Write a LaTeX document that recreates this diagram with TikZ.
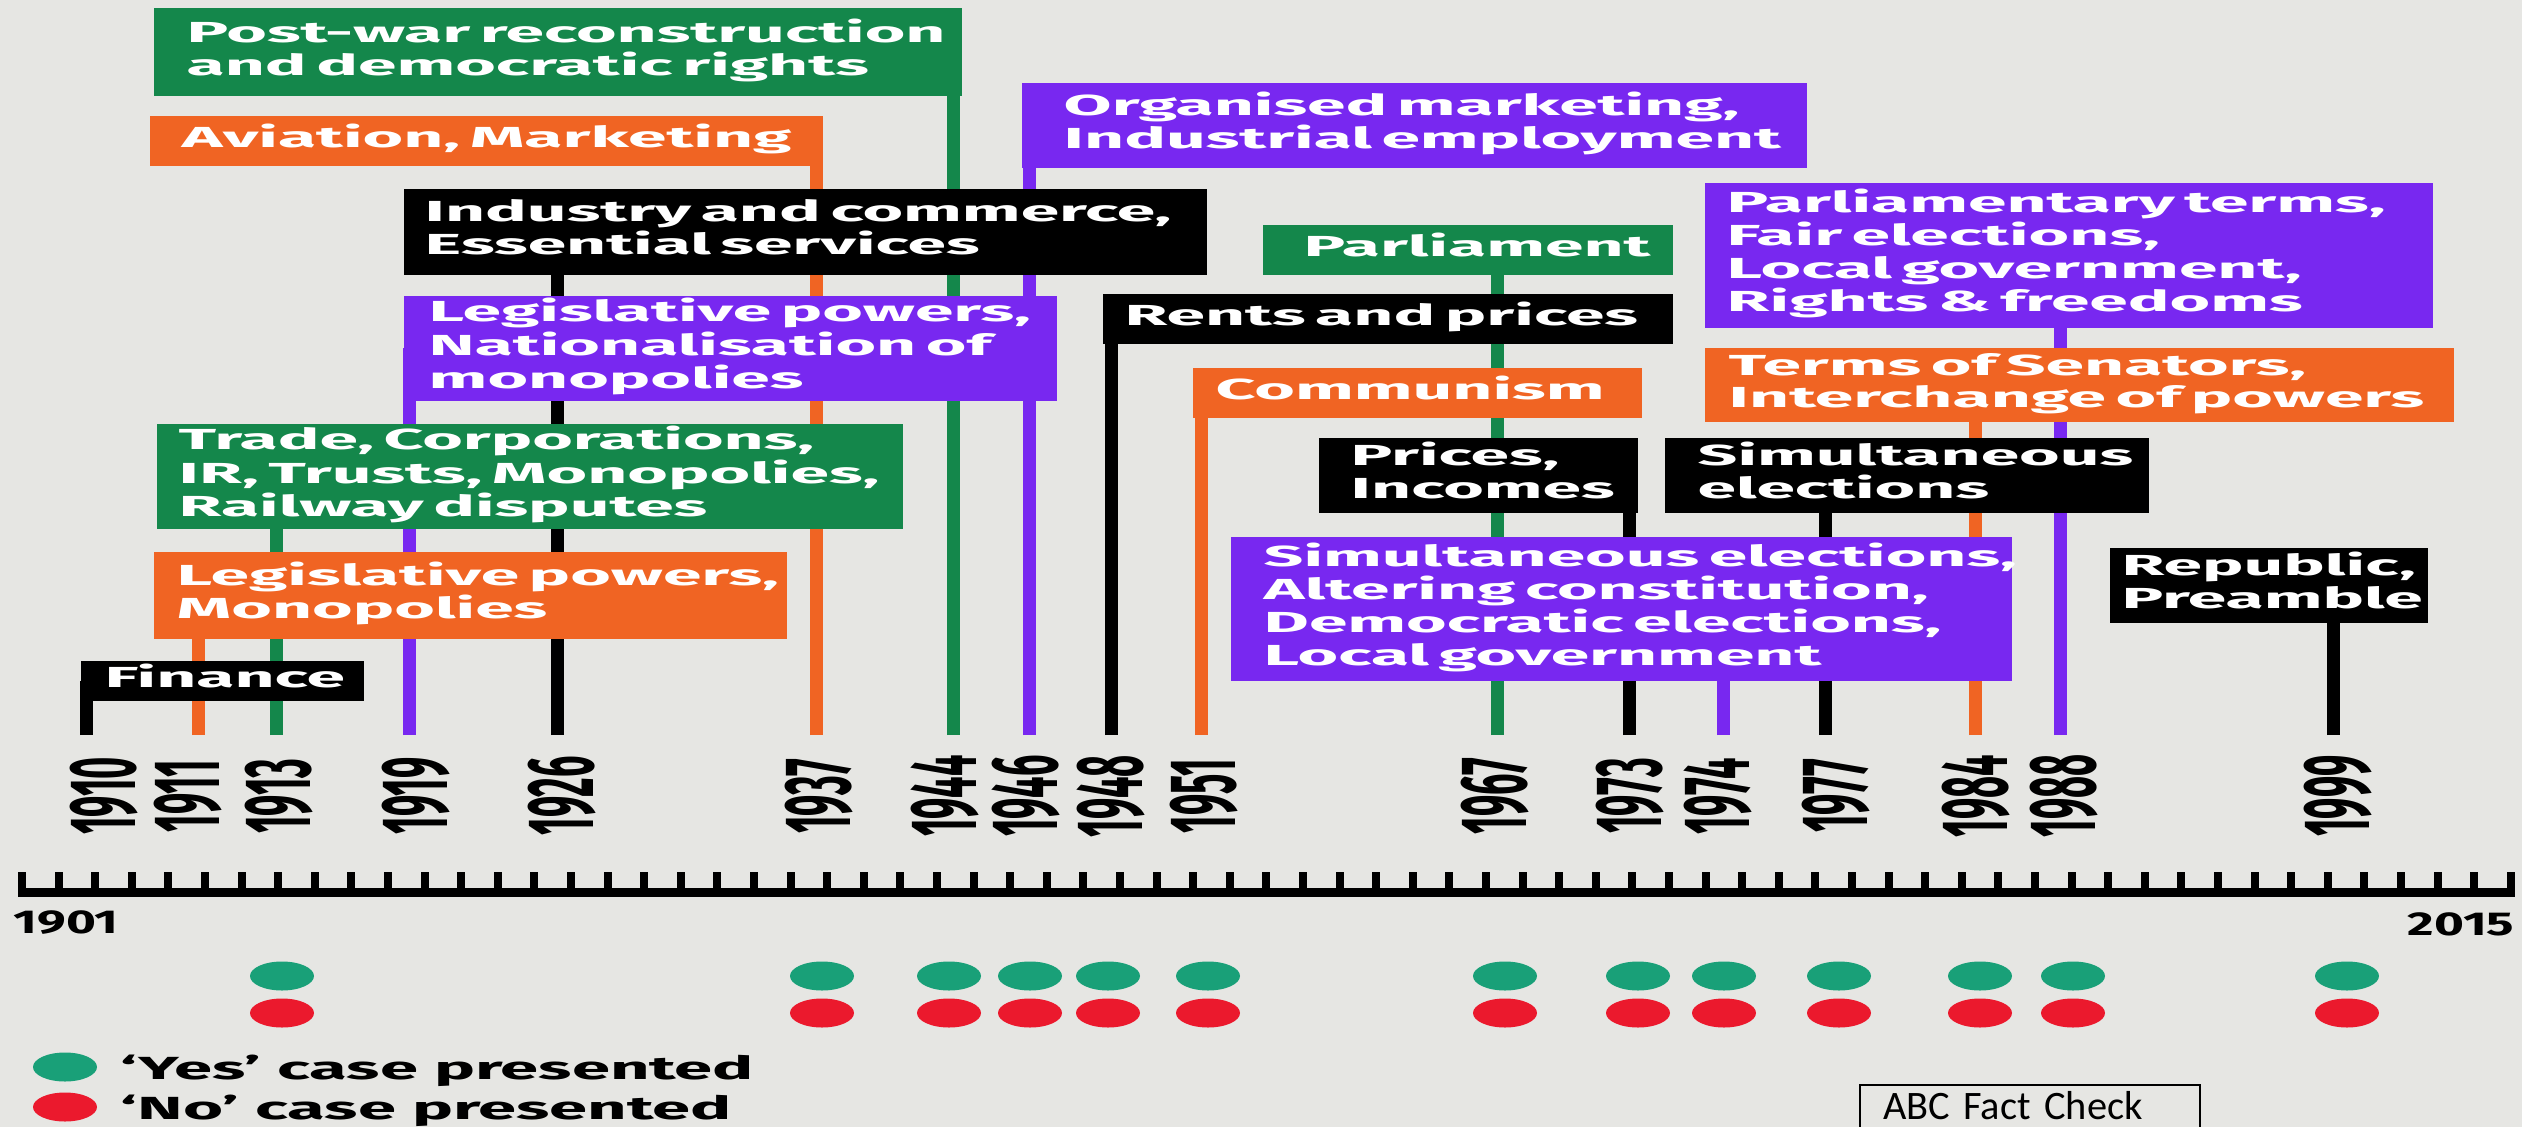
\documentclass[tikz,border=0pt]{standalone}
\usepackage{graphicx}
\usepackage{fontspec}
\setmainfont{Fira Sans}
\newfontfamily\boxfont[FakeStretch=2.4]{Fira Sans}
\newfontfamily\axisfont[FakeStretch=1.55]{Fira Sans}
\newfontfamily\legfont[FakeStretch=2.15]{Fira Sans}
\newfontfamily\yearfont{Fira Sans}
\newfontfamily\abcfont{Carlito}
\usetikzlibrary{positioning,shapes.geometric}
\newcommand{\boxlines}[1]{\begin{tabular}{@{}l@{}}#1\end{tabular}}

\definecolor{paper}{RGB}{230,230,227}
\definecolor{kgreen}{RGB}{20,135,75}
\definecolor{korange}{RGB}{240,100,35}
\definecolor{kpurple}{RGB}{120,40,240}
\definecolor{yesgreen}{RGB}{25,160,120}
\definecolor{nored}{RGB}{235,25,45}

\pgfdeclarelayer{paperlayer}
\pgfdeclarelayer{stemlayer}
\pgfsetlayers{paperlayer,stemlayer,main}

\tikzset{
  topic/.style={fill=#1, text=white, anchor=north west, align=left, inner ysep=0pt,
    font={\boxfont\bfseries\fontsize{8.25pt}{9.2pt}\selectfont}},
  stem/.style={draw=#1, line width=1.3mm},
  yearlbl/.style={rotate=90, inner sep=0pt,
    font={\yearfont\bfseries\fontsize{10.8pt}{12pt}\selectfont}},
  yesdot/.style={ellipse, fill=yesgreen, minimum width=6.4mm, minimum height=2.9mm, inner sep=0pt},
  nodot/.style={ellipse, fill=nored, minimum width=6.4mm, minimum height=2.9mm, inner sep=0pt},
  axislbl/.style={inner sep=0pt, font={\axisfont\bfseries\fontsize{9.4pt}{11pt}\selectfont}},
  keytext/.style={inner sep=0pt, anchor=base west, font={\legfont\bfseries\fontsize{9.1pt}{11pt}\selectfont}}
}

\begin{document}
\begin{tikzpicture}[x=0.1mm, y=-0.1mm]
  \useasboundingbox (0,0) rectangle (2522,1127);
  \begin{pgfonlayer}{paperlayer}
    \fill[paper] (0,0) rectangle (2522,1127);
  \end{pgfonlayer}

  % subject boxes
  \node[topic=kgreen, text width=74.2mm, inner xsep=3.3mm, minimum height=8.8mm] (postwar) at (153,7)
    {\boxlines{Post-war reconstruction\\and democratic rights}};
  \node[topic=korange, text width=60.9mm, inner xsep=3.2mm, minimum height=5mm] (aviation) at (149,115)
    {\boxlines{Aviation, Marketing}};
  \node[topic=kpurple, text width=70.1mm, inner xsep=4.2mm, minimum height=8.5mm] (organised) at (1021,82)
    {\boxlines{Organised marketing,\\Industrial employment}};
  \node[topic=black, text width=76.1mm, inner xsep=2.1mm, minimum height=8.6mm] (industry) at (403,188)
    {\boxlines{Industry and commerce,\\Essential services}};
  \node[topic=kgreen, text width=32.8mm, inner xsep=4.1mm, minimum height=5mm] (parliament) at (1262,224)
    {\boxlines{Parliament}};
  \node[topic=kpurple, text width=68.4mm, inner xsep=2.2mm, minimum height=14.5mm] (partterms) at (1704,182)
    {\boxlines{Parliamentary terms,\\Fair elections,\\Local government,\\Rights \& freedoms}};
  \node[topic=kpurple, text width=60.3mm, inner xsep=2.5mm, minimum height=10.5mm] (legnat) at (403,295)
    {\boxlines{Legislative powers,\\Nationalisation of\\monopolies}};
  \node[topic=black, text width=52.6mm, inner xsep=2.2mm, minimum height=5mm] (rents) at (1102,293)
    {\boxlines{Rents and prices}};
  \node[topic=korange, text width=70.1mm, inner xsep=2.4mm, minimum height=7.4mm] (senators) at (1704,347)
    {\boxlines{Terms of Senators,\\Interchange of powers}};
  \node[topic=korange, text width=40.3mm, inner xsep=2.3mm, minimum height=5mm] (communism) at (1192,367)
    {\boxlines{Communism}};
  \node[topic=kgreen, text width=70.2mm, inner xsep=2.2mm, minimum height=10.5mm] (trade) at (156,423)
    {\boxlines{Trade, Corporations,\\IR, Trusts, Monopolies,\\Railway disputes}};
  \node[topic=black, text width=25.5mm, inner xsep=3.2mm, minimum height=7.5mm] (prices) at (1318,437)
    {\boxlines{Prices,\\Incomes}};
  \node[topic=black, text width=41.8mm, inner xsep=3.3mm, minimum height=7.5mm] (simult) at (1664,437)
    {\boxlines{Simultaneous\\elections}};
  \node[topic=kpurple, text width=71.5mm, inner xsep=3.3mm, minimum height=14.4mm] (elections) at (1230,536)
    {\boxlines{Simultaneous elections,\\Altering constitution,\\Democratic elections,\\Local government}};
  \node[topic=black, text width=29.4mm, inner xsep=1.2mm, minimum height=7.5mm] (republic) at (2109,547)
    {\boxlines{Republic,\\Preamble}};
  \node[topic=korange, text width=58.7mm, inner xsep=2.3mm, minimum height=8.7mm] (legmono) at (153,551)
    {\boxlines{Legislative powers,\\Monopolies}};
  \node[topic=black, text width=23.5mm, inner xsep=2.4mm, minimum height=4mm] (finance) at (80,660)
    {\boxlines{Finance}};

  % stems and years
  \foreach \yr/\sx/\lx/\col/\bx in {1910/86/104/black/finance, 1911/198/188/korange/legmono,
      1913/276/279/kgreen/trade, 1919/409/416/kpurple/legnat, 1926/557/562/black/industry,
      1937/816/819/korange/aviation, 1944/953/945/kgreen/postwar, 1946/1029/1026/kpurple/organised,
      1948/1111/1111/black/rents, 1951/1201/1204/korange/communism, 1967/1497/1495/kgreen/parliament,
      1973/1629/1630/black/prices, 1974/1723/1718/kpurple/elections, 1977/1825/1836/black/simult,
      1984/1975/1976/korange/senators, 1988/2060/2064/kpurple/partterms, 1999/2333/2338/black/republic}{
    \coordinate (s\yr) at (\sx,735);
    \node[yearlbl] (y\yr) at (\lx,796) {\scalebox{1}[2.5]{\yr}};
    \begin{pgfonlayer}{stemlayer}
      \draw[stem=\col] (s\yr) -- (s\yr |- \bx.center);
    \end{pgfonlayer}
  }

  % ruler
  \fill (18,888) rectangle (2515,897);
  \foreach \k in {0,...,68}
    \fill ({18+\k*36.6},872) rectangle ++(8,17);
  \node[axislbl, anchor=base west] (first) at (13,933) {1901};
  \node[axislbl, anchor=base east] (last) at (2515,935) {2015};

  % cases
  \foreach \yr/\dx in {1913/282, 1937/822, 1944/949, 1946/1030, 1948/1108, 1951/1208, 1967/1505,
      1973/1638, 1974/1724, 1977/1839, 1984/1980, 1988/2073, 1999/2347}{
    \node[yesdot] (yes\yr) at (\dx,976) {};
    \node[nodot] (no\yr) at (\dx,1013) {};
  }

  % key
  \node[yesdot] (keyyes) at (65,1067) {};
  \node[nodot] (keyno) at (65,1107) {};
  \node[keytext] (keyyestext) at (120,1079) {‘Yes’ case presented};
  \node[keytext] (keynotext) at (120,1119) {‘No’ case presented};

  % runs off the bottom edge
  \node[draw, line width=0.2mm, anchor=north west, text width=29.4mm, inner xsep=2.3mm,
    inner ysep=0.8mm, text height=2.6mm, text depth=3mm, align=left,
    font={\abcfont\fontsize{11.5pt}{13pt}\selectfont}] (abc) at (1859,1084) {ABC Fact Check};
\end{tikzpicture}
\end{document}
